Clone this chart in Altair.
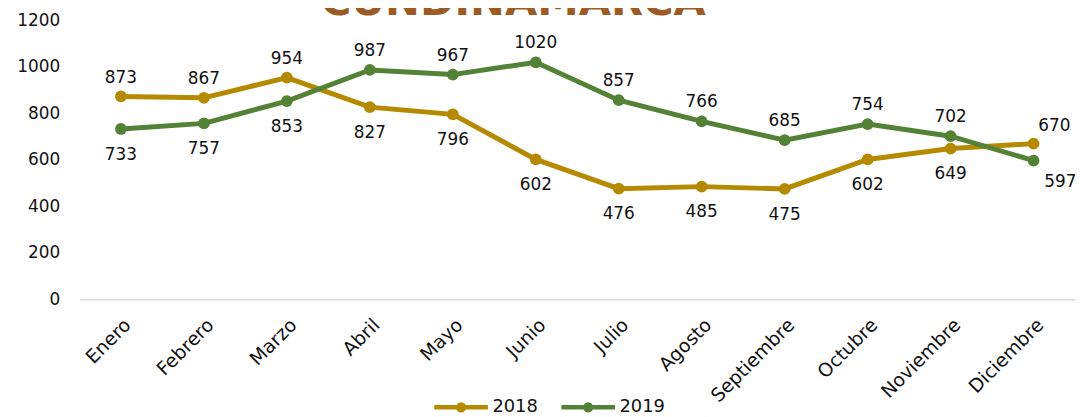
import altair as alt
import pandas as pd

months = ["Enero", "Febrero", "Marzo", "Abril", "Mayo", "Junio", "Julio",
          "Agosto", "Septiembre", "Octubre", "Noviembre", "Diciembre"]
values_2018 = [873, 867, 954, 827, 796, 602, 476, 485, 475, 602, 649, 670]
values_2019 = [733, 757, 853, 987, 967, 1020, 857, 766, 685, 754, 702, 597]
pos_2018 = ["above", "above", "above", "below", "below", "below", "below",
            "below", "below", "below", "below", "above-right"]
pos_2019 = ["below", "below", "below", "above", "above", "above", "above",
            "above", "above", "above", "above", "below-right"]
series = ["2018", "2019"]
colors = ["#B58A00", "#538135"]
title_text = "CUNDINAMARCA"

rows = []
for m, v, p in zip(months, values_2018, pos_2018):
    rows.append({"mes": m, "serie": "2018", "valor": v, "pos": p})
for m, v, p in zip(months, values_2019, pos_2019):
    rows.append({"mes": m, "serie": "2019", "valor": v, "pos": p})
df = pd.DataFrame(rows)

FONT = "DejaVu Sans"

x = alt.X("mes:N", sort=months, title=None,
          scale=alt.Scale(type="point", padding=0.5),
          axis=alt.Axis(labelAngle=-45, labelFontSize=19, labelFont=FONT,
                        labelColor="#111111", ticks=False, domainColor="#d9d9d9",
                        domainWidth=1.5, labelPadding=16))
y = alt.Y("valor:Q", title=None,
          scale=alt.Scale(domain=[0, 1200], nice=False),
          axis=alt.Axis(values=[0, 200, 400, 600, 800, 1000, 1200], grid=False,
                        format="d", domain=False, ticks=False, labelFontSize=17,
                        labelFont=FONT, labelColor="#111111", labelPadding=20))

legend_path = ("M-1,0L1,0"
               "M-0.11,0A0.11,0.11,0,1,0,0.11,0A0.11,0.11,0,1,0,-0.11,0"
               "M-0.04,0A0.04,0.04,0,1,0,0.04,0A0.04,0.04,0,1,0,-0.04,0")
color = alt.Color("serie:N", scale=alt.Scale(domain=series, range=colors),
                  legend=alt.Legend(title=None, orient="none", direction="horizontal",
                                    legendX=355, legendY=360,
                                    symbolType=legend_path, symbolSize=2916,
                                    symbolStrokeWidth=4.5, labelFontSize=18,
                                    labelFont=FONT, labelColor="#111111",
                                    labelOffset=2, columnPadding=14))

base = alt.Chart(df).encode(x=x, y=y, color=color, detail="serie:N")

line = base.mark_line(strokeWidth=5)
pts = base.mark_point(filled=True, size=140, opacity=1)

def labels(p, dx, dy):
    return base.transform_filter(alt.datum.pos == p).mark_text(
        dx=dx, dy=dy, baseline="alphabetic", fontSize=17, font=FONT
    ).encode(text="valor:Q", color=alt.value("#111111"))

lab_above = labels("above", 0, -14)
lab_below = labels("below", 0, 31)
lab_ar = labels("above-right", 21, -13)
lab_br = labels("below-right", 27, 27)

title = alt.Chart(alt.Data(values=[{"t": title_text}])).mark_text(
    fontSize=42, font=FONT, fontWeight="bold", color="#9C5A24",
    baseline="alphabetic", align="center"
).encode(text="t:N", x=alt.value(437), y=alt.value(-5))

chart = alt.layer(line, pts, lab_above, lab_below, lab_ar, lab_br, title).properties(
    width=1003, height=281,
    padding={"left": 72, "top": 11, "right": 6, "bottom": 117},
    autosize=alt.AutoSizeParams(type="none"),
    background="white",
).configure_view(stroke=None)

chart.save("out.html", embed_options={"renderer": "svg", "actions": False})
